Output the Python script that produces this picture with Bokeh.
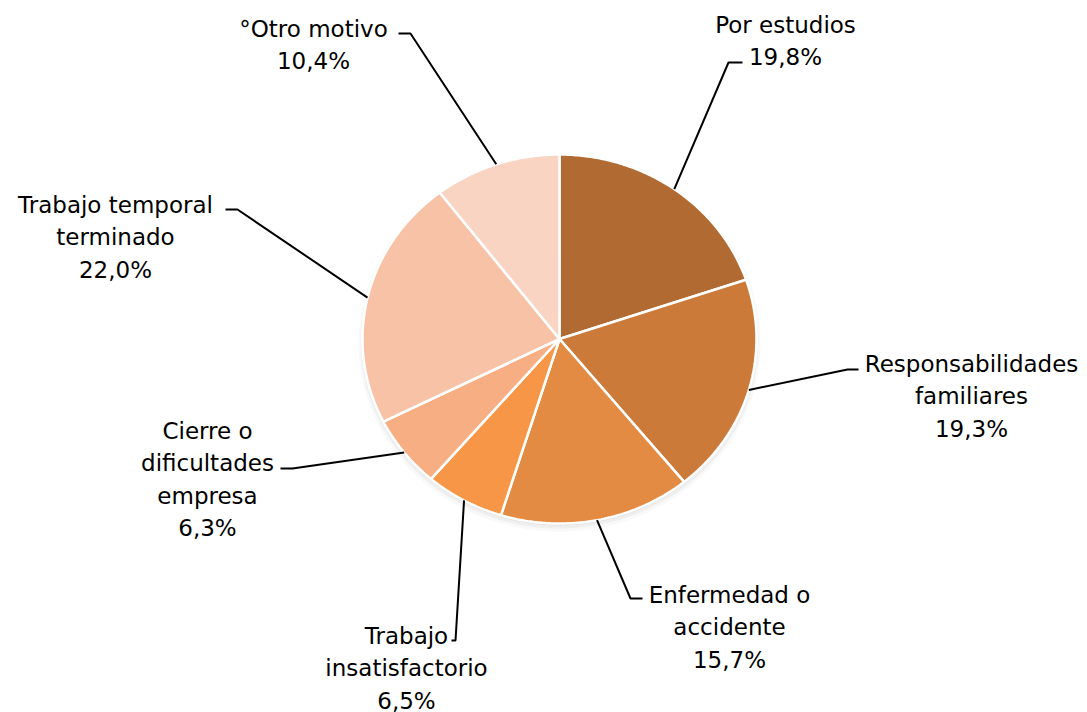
import numpy as np
from bokeh.plotting import figure
from bokeh.models import Range1d, ColumnDataSource
from bokeh.core.properties import value
from bokeh.embed import file_html
from bokeh.resources import INLINE

# ---- data ----
categories = ["Por estudios", "Responsabilidades\nfamiliares", "Enfermedad o\naccidente",
              "Trabajo\ninsatisfactorio", "Cierre o\ndificultades\nempresa",
              "Trabajo temporal\nterminado", "°Otro motivo"]
values = [19.8, 19.3, 15.7, 6.5, 6.3, 22.0, 10.4]
colors = ["#B06A32", "#CB7A3A", "#E38B43", "#F79646", "#F6AE82", "#F8C2A7", "#F9D4C3"]

# ---- layout (pixel-like coordinates of the page) ----
CX, CY, RX, RY = 559.0, 338.5, 197.0, 184.5
# label anchor: (center x, first baseline y), leader elbow, leader end
label_pos = [(785, 24), (971, 363), (729, 594), (406, 635), (207, 430), (115, 204), (313, 28)]
elbows = [(728, 62), (847, 369), (630, 598), (455, 640), (292, 468), (237, 209), (410, 33)]
ends = [(742, 62), (858, 369), (642, 598), (451, 640), (280, 468), (225, 209), (398, 33)]
LINE_H = 32.5

p = figure(width=1087, height=712, x_range=Range1d(0, 1087), y_range=Range1d(712, 0),
           output_backend="svg", toolbar_location=None, min_border=0)
p.axis.visible = False
p.grid.visible = False
p.outline_line_color = None
p.background_fill_color = "white"

# soft shadow
for off, grow, a in [(4, 4, 0.05), (3, 2, 0.08), (2, 0, 0.12)]:
    t = np.linspace(0, 2 * np.pi, 300)
    p.patch(CX + (RX + grow) * np.sin(t), CY + off - (RY + grow) * np.cos(t),
            fill_color="#808080", fill_alpha=a, line_color=None)

# slices, clockwise from 12 o'clock
total = sum(values)
fr = np.cumsum([0] + values) / total
xs, ys = [], []
for i in range(len(values)):
    t = np.linspace(fr[i] * 2 * np.pi, fr[i + 1] * 2 * np.pi, 120)
    xs.append(np.concatenate([[CX], CX + RX * np.sin(t)]).tolist())
    ys.append(np.concatenate([[CY], CY - RY * np.cos(t)]).tolist())
p.patches(xs=xs, ys=ys, fill_color=colors, line_color="white", line_width=2.5)

# leader lines
mid = (fr[:-1] + fr[1:]) / 2 * 2 * np.pi
lx, ly = [], []
for i in range(len(values)):
    sx = CX + RX * np.sin(mid[i])
    sy = CY - RY * np.cos(mid[i])
    lx.append([sx, elbows[i][0], ends[i][0]])
    ly.append([sy, elbows[i][1], ends[i][1]])
p.multi_line(xs=lx, ys=ly, line_color="black", line_width=2)

# labels
tx, ty, tt = [], [], []
for i, cat in enumerate(categories):
    lines = cat.split("\n") + [f"{values[i]:.1f}".replace(".", ",") + "%"]
    for j, ln in enumerate(lines):
        tx.append(label_pos[i][0])
        ty.append(label_pos[i][1] + j * LINE_H)
        tt.append(ln)
src = ColumnDataSource(dict(x=tx, y=ty, text=tt))
p.text(x="x", y="y", text="text", source=src, text_align="center", text_baseline="alphabetic",
       text_font=value("DejaVu Sans"), text_font_size="23px", text_color="black")

open("out.html", "w").write(file_html(p, INLINE))
